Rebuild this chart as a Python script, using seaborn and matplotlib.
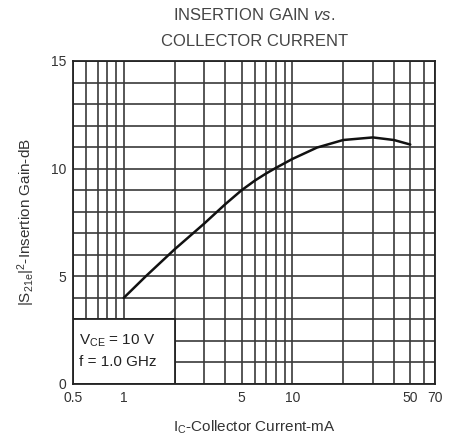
import matplotlib
matplotlib.use("Agg")
import matplotlib.pyplot as plt
import seaborn as sns
import pandas as pd
from matplotlib.patches import Rectangle
from matplotlib.ticker import FixedLocator, MultipleLocator, NullFormatter

# curve
current_ma = [1, 1.35, 2, 3, 4, 5, 6, 7, 8, 10, 14, 20, 30, 40, 50]
gain_db = [4.0, 5.0, 6.25, 7.45, 8.35, 9.0, 9.45, 9.78, 10.04, 10.45, 10.98, 11.33, 11.45, 11.33, 11.12]

x_ticks = [0.5, 1, 5, 10, 50, 70]
x_tick_labels = ["0.5", "1", "5", "10", "50", "70"]
x_grid = [0.5, 0.6, 0.7, 0.8, 0.9, 1, 2, 3, 4, 5, 6, 7, 8, 9, 10, 20, 30, 40, 50, 60, 70]
y_ticks = [0, 5, 10, 15]

sns.set_theme(style="white")
plt.rcParams["font.family"] = ["Liberation Sans", "DejaVu Sans"]
plt.rcParams["mathtext.fontset"] = "custom"
plt.rcParams["mathtext.rm"] = "Liberation Sans"
plt.rcParams["mathtext.it"] = "Liberation Sans:italic"

data = pd.DataFrame({"current": current_ma, "gain": gain_db})

fig = plt.figure(figsize=(4.49, 4.41), dpi=100)
ax = fig.add_axes([0.1626, 0.1293, 0.806, 0.7324])
ax.set_xscale("log")
ax.set_xlim(0.5, 70)
ax.set_ylim(0, 15)

ax.xaxis.set_major_locator(FixedLocator(x_ticks))
ax.xaxis.set_minor_locator(FixedLocator(x_grid))
ax.xaxis.set_minor_formatter(NullFormatter())
ax.set_xticklabels(x_tick_labels)
ax.yaxis.set_major_locator(FixedLocator(y_ticks))
ax.yaxis.set_minor_locator(MultipleLocator(1))

ax.grid(which="both", color="#3a3a3a", linewidth=1.2)
ax.set_axisbelow(True)
ax.tick_params(which="both", length=0, labelsize=10, colors="#333333", pad=5)

for spine in ax.spines.values():
    spine.set_color("#222222")
    spine.set_linewidth(1.3)

# condition box in the lower-left corner
ax.add_patch(Rectangle((0.5, 0), 1.5, 3, facecolor="white", edgecolor="#222222",
                       linewidth=1.3, zorder=2))
ax.text(0.54, 2.0, r"$\mathregular{V_{CE}}$ = 10 V", fontsize=11, color="#222222",
        va="center", ha="left", zorder=3)
ax.text(0.54, 1.0, "f = 1.0 GHz", fontsize=11, color="#222222",
        va="center", ha="left", zorder=3)

sns.lineplot(data=data, x="current", y="gain", color="#111111", linewidth=1.8, ax=ax, zorder=4)

ax.set_xlabel(r"$\mathregular{I_C}$-Collector Current-mA", fontsize=11, color="#333333", labelpad=10)
ax.set_ylabel(r"$\mathregular{|S_{21e}|^2}$-Insertion Gain-dB", fontsize=11, color="#333333", labelpad=10)

fig.text(0.566, 0.965, "INSERTION GAIN " + r"$\mathit{vs.}$", fontsize=12, color="#444444",
         ha="center", va="center")
fig.text(0.566, 0.905, "COLLECTOR CURRENT", fontsize=12, color="#444444",
         ha="center", va="center")

fig.savefig("out.png", dpi=100)
